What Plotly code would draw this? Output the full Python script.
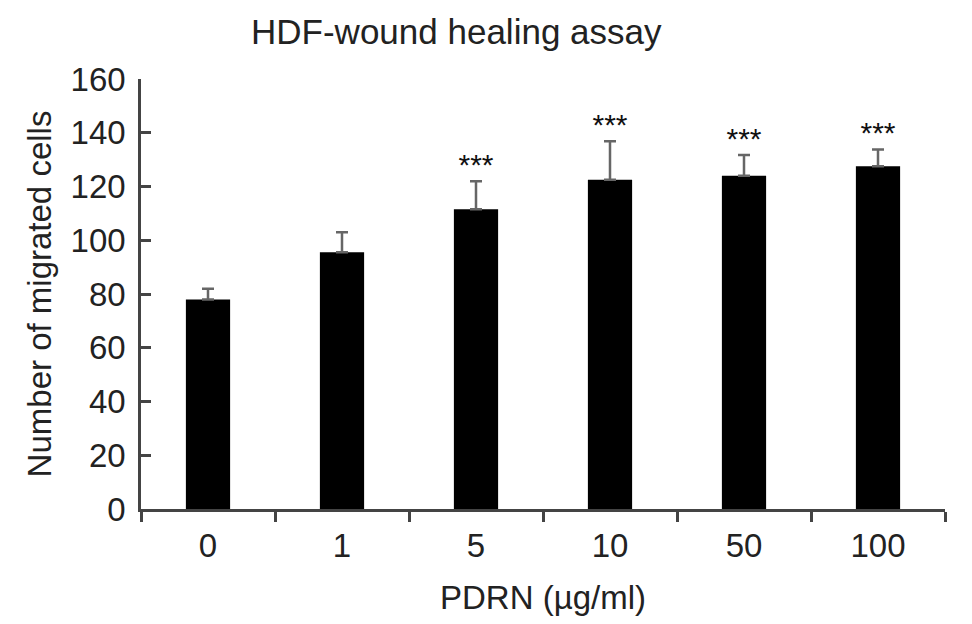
import plotly.graph_objects as go

# PDRN concentrations (ug/ml) and migrated cell counts
doses = ['0', '1', '5', '10', '50', '100']
migrated = [78, 95.5, 111.5, 122.5, 124, 127.5]
err_up = [4, 7.5, 10.5, 14.3, 7.7, 6.3]
signif = ['', '', '***', '***', '***', '***']

star_y = [m + e + 5 for m, e in zip(migrated, err_up)]

font = 'Liberation Sans, Arial, sans-serif'

fig = go.Figure()
fig.add_trace(go.Bar(x=doses, y=migrated, width=0.33,
                     marker=dict(color='black', line=dict(width=0)),
                     error_y=dict(type='data', array=err_up, symmetric=False,
                                  arrayminus=[0] * len(doses),
                                  color='#666666', thickness=2.5, width=6)))
fig.add_trace(go.Scatter(x=doses, y=star_y, mode='text', text=signif,
                         textposition='middle center',
                         textfont=dict(size=30, color='#111111', family=font)))

# page body has an 8px margin, so the figure is a little smaller than the window
fig.update_layout(
    width=964, height=616,
    margin=dict(l=133, r=27, t=71, b=115),
    paper_bgcolor='white', plot_bgcolor='white',
    showlegend=False,
    font=dict(family=font, size=34, color='#222222'),
    title=dict(text='HDF-wound healing assay', xref='container', yref='container',
               x=0.465, y=0.962, xanchor='center', yanchor='middle',
               font=dict(size=35, color='#222222')),
)
fig.update_xaxes(type='category', range=[-0.5, 5.5], automargin=False,
                 showline=True, linecolor='#444444', linewidth=2.5,
                 ticks='outside', tickson='boundaries', ticklen=10, tickwidth=2.5,
                 tickcolor='#444444', showgrid=False, zeroline=False,
                 tickfont=dict(size=33), ticklabelstandoff=6,
                 title=dict(text='PDRN (\u00b5g/ml)', standoff=23, font=dict(size=33)))
fig.update_yaxes(range=[0, 160], dtick=20, automargin=False,
                 showline=True, linecolor='#444444', linewidth=2.5,
                 ticks='inside', ticklen=10, tickwidth=2.5, tickcolor='#444444',
                 showgrid=False, zeroline=False, ticklabelstandoff=6,
                 tickfont=dict(size=33),
                 title=dict(text='Number of migrated cells', standoff=10, font=dict(size=33)))

fig.write_html('out.html')
